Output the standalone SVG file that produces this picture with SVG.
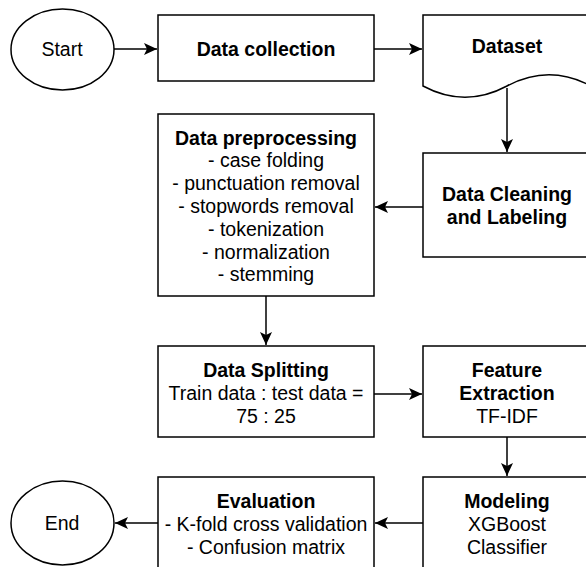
<svg xmlns="http://www.w3.org/2000/svg" width="586" height="567" viewBox="0 0 586 567">
<style>
.s{fill:#fff;stroke:#000;stroke-width:1.5}
.t{font-family:"Liberation Sans",Arial,sans-serif;font-size:19.5px;text-anchor:middle;fill:#000}
.b{font-weight:bold}
.c{fill:none;stroke:#000;stroke-width:1.5}
</style>
<defs>
<marker id="a" markerUnits="userSpaceOnUse" markerWidth="14" markerHeight="12" refX="13" refY="6" orient="auto">
<path d="M0,0 L13,6 L0,12 L3,6 Z" fill="#000"/>
</marker>
</defs>
<rect width="586" height="567" fill="#fff"/>
<g id="connectors">
<path class="c" d="M114,49 H157" marker-end="url(#a)"/>
<path class="c" d="M374,49 H422" marker-end="url(#a)"/>
<path class="c" d="M507,88 V152" marker-end="url(#a)"/>
<path class="c" d="M423,207 H375" marker-end="url(#a)"/>
<path class="c" d="M266,296 V345" marker-end="url(#a)"/>
<path class="c" d="M374,394 H422" marker-end="url(#a)"/>
<path class="c" d="M507,437 V476" marker-end="url(#a)"/>
<path class="c" d="M423,523 H375" marker-end="url(#a)"/>
<path class="c" d="M158,523 H115" marker-end="url(#a)"/>
</g>
<g id="start">
<ellipse class="s" cx="62.5" cy="49.5" rx="51.5" ry="40.5"/>
<text class="t" x="62" y="56">Start</text>
</g>
<g id="data-collection">
<rect class="s" x="158" y="15" width="216" height="66"/>
<text class="t b" x="266" y="55.5">Data collection</text>
</g>
<g id="dataset">
<path class="s" d="M423,15 H591 V86 Q549,63.5 507,86 Q465,108.5 423,86 Z"/>
<text class="t b" x="507" y="53">Dataset</text>
</g>
<g id="data-cleaning">
<rect class="s" x="423" y="153" width="168" height="104"/>
<text class="t b" x="507" y="201">Data Cleaning</text>
<text class="t b" x="507" y="224">and Labeling</text>
</g>
<g id="data-preprocessing">
<rect class="s" x="158" y="114" width="216" height="182"/>
<text class="t b" x="266" y="144.5">Data preprocessing</text>
<text class="t" x="266" y="167.3">- case folding</text>
<text class="t" x="266" y="190.1">- punctuation removal</text>
<text class="t" x="266" y="212.9">- stopwords removal</text>
<text class="t" x="266" y="235.7">- tokenization</text>
<text class="t" x="266" y="258.5">- normalization</text>
<text class="t" x="266" y="281.3">- stemming</text>
</g>
<g id="data-splitting">
<rect class="s" x="158" y="346" width="216" height="91"/>
<text class="t b" x="266" y="377">Data Splitting</text>
<text class="t" x="266" y="400">Train data : test data =</text>
<text class="t" x="266" y="423">75 : 25</text>
</g>
<g id="feature-extraction">
<rect class="s" x="423" y="346" width="168" height="91"/>
<text class="t b" x="507" y="377">Feature</text>
<text class="t b" x="507" y="400">Extraction</text>
<text class="t" x="507" y="423">TF-IDF</text>
</g>
<g id="modeling">
<rect class="s" x="423" y="477" width="168" height="100"/>
<text class="t b" x="507" y="508">Modeling</text>
<text class="t" x="507" y="531">XGBoost</text>
<text class="t" x="507" y="554">Classifier</text>
</g>
<g id="evaluation">
<rect class="s" x="158" y="477" width="216" height="100"/>
<text class="t b" x="266" y="508">Evaluation</text>
<text class="t" x="266" y="531">- K-fold cross validation</text>
<text class="t" x="266" y="554">- Confusion matrix</text>
</g>
<g id="end">
<ellipse class="s" cx="62.5" cy="523" rx="51.5" ry="42"/>
<text class="t" x="62" y="530">End</text>
</g>
</svg>
